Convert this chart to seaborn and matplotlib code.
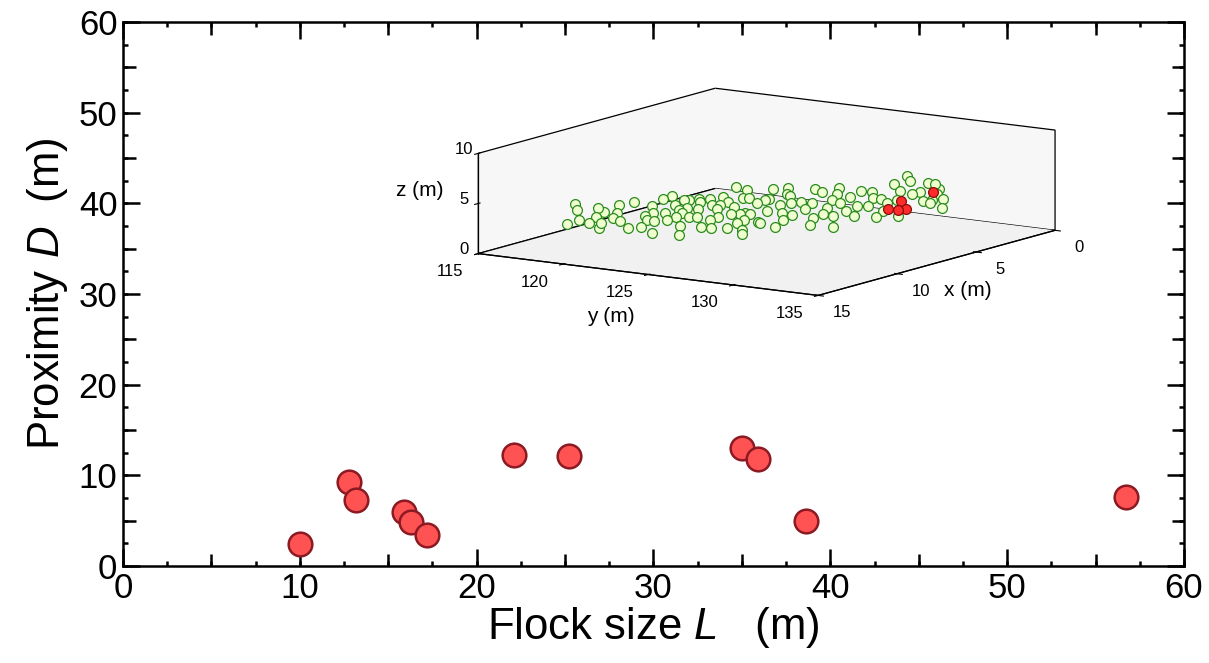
import matplotlib
matplotlib.use('Agg')
import matplotlib.pyplot as plt
from matplotlib.ticker import MultipleLocator
import seaborn as sns

# main panel: flock size vs proximity
flock_L = [10.0, 12.8, 13.2, 15.9, 16.3, 17.2, 22.1, 25.2, 35.0, 35.9, 38.6, 56.7]
proximity_D = [2.4, 9.3, 7.3, 6.0, 4.9, 3.4, 12.2, 12.1, 13.0, 11.8, 5.0, 7.6]

# inset: one flock snapshot (y, x, z in m)
flock_y = [119.47, 117.58, 117.81, 119.29, 120.21, 119.61, 119.07, 120.51, 120.63, 119.12,
           120.42, 119.79, 119.46, 121.14, 121.70, 118.96, 122.81, 122.03, 120.27, 121.25,
           121.35, 123.41, 122.51, 120.33, 121.73, 122.85, 120.26, 120.98, 122.85, 121.94,
           122.49, 120.63, 124.31, 124.81, 121.93, 120.83, 123.30, 123.70, 122.48, 121.13,
           121.64, 125.33, 124.68, 121.49, 125.92, 122.47, 123.37, 124.44, 122.81, 121.80,
           126.57, 122.79, 124.55, 123.68, 121.63, 126.24, 124.91, 127.36, 122.71, 126.06,
           124.95, 121.72, 122.99, 125.40, 128.05, 124.08, 126.86, 127.18, 123.95, 125.63,
           123.89, 122.67, 128.26, 125.25, 126.47, 127.68, 123.92, 123.06, 124.41, 125.46,
           127.23, 125.63, 126.95, 129.45, 126.31, 128.58, 124.39, 124.97, 128.38, 127.61,
           126.66, 129.00, 130.63, 125.97, 125.20, 127.46, 128.84, 126.95, 129.86, 128.62,
           126.48, 129.06, 127.00, 127.99, 130.99, 128.43, 130.36, 129.36, 126.81, 129.30,
           128.03, 131.66, 127.36, 127.78, 129.02, 129.10, 130.49, 128.75, 131.12, 129.26,
           130.01, 129.44, 132.29, 130.97, 130.72]
flock_x = [14.19, 11.67, 11.78, 13.21, 13.62, 12.50, 11.82, 13.27, 13.30, 11.45,
           12.33, 11.34, 10.92, 12.62, 12.70, 9.38, 13.10, 11.89, 9.68, 10.64,
           11.30, 13.03, 11.96, 9.07, 10.41, 11.49, 8.40, 8.96, 10.94, 9.79,
           10.17, 8.06, 12.22, 12.84, 9.24, 7.96, 10.56, 10.53, 9.11, 7.61,
           8.09, 12.02, 10.77, 7.31, 12.02, 8.24, 8.89, 10.01, 8.08, 6.80,
           11.71, 7.54, 9.27, 8.18, 5.81, 10.71, 9.09, 11.62, 6.56, 10.10,
           8.85, 5.19, 6.43, 8.97, 12.36, 7.13, 10.08, 10.26, 6.46, 8.17,
           6.15, 4.60, 10.47, 6.91, 8.12, 9.32, 5.06, 4.04, 5.38, 6.47,
           8.31, 6.02, 7.16, 9.54, 6.05, 8.39, 3.77, 3.98, 7.54, 6.50,
           5.15, 7.61, 9.33, 4.07, 3.16, 5.50, 6.62, 4.31, 7.20, 5.65,
           3.10, 5.44, 3.00, 3.96, 7.02, 3.96, 5.88, 4.59, 1.37, 3.88,
           2.35, 6.33, 1.17, 1.41, 2.60, 2.20, 3.52, 1.30, 3.74, 1.42,
           2.13, 1.34, 4.25, 2.74, 3.19]
flock_z = [3.5, 4.0, 3.5, 3.5, 3.5, 3.5, 4.0, 3.0, 3.5, 3.5,
           3.5, 3.5, 4.0, 3.5, 3.0, 3.5, 3.5, 3.5, 3.5, 3.5,
           3.5, 3.0, 3.5, 4.0, 3.5, 3.5, 4.0, 3.5, 3.5, 3.5,
           3.5, 3.5, 3.5, 3.0, 3.5, 3.5, 3.5, 3.5, 3.5, 3.5,
           3.5, 3.5, 3.5, 3.5, 3.5, 3.5, 3.5, 3.5, 3.5, 3.5,
           3.5, 3.5, 3.5, 3.5, 4.0, 3.5, 3.5, 3.5, 3.5, 3.5,
           3.5, 3.5, 3.5, 3.5, 3.5, 3.5, 3.5, 3.5, 3.5, 3.5,
           3.5, 3.5, 3.5, 3.5, 3.5, 3.5, 3.5, 3.5, 3.5, 3.5,
           3.5, 3.5, 3.5, 3.5, 3.5, 3.5, 3.5, 3.5, 3.5, 3.5,
           3.5, 3.5, 3.5, 3.5, 3.5, 3.5, 3.5, 3.5, 3.5, 3.5,
           3.5, 3.5, 3.5, 3.5, 3.5, 3.5, 3.5, 3.5, 3.5, 3.5,
           3.5, 3.5, 4.3, 4.0, 3.5, 3.5, 3.5, 4.0, 3.5, 4.0,
           3.5, 3.5, 3.5, 3.5, 3.5]
# leaders (red)
lead_y = [130.27, 130.82, 131.01, 129.57, 129.49]
lead_x = [5.49, 5.44, 5.14, 3.91, 1.80]
lead_z = [3.5, 3.5, 3.5, 3.5, 3.5]

sns.set_style('ticks')
plt.rcParams['font.family'] = ['Liberation Sans', 'DejaVu Sans']
plt.rcParams['mathtext.fontset'] = 'custom'
plt.rcParams['mathtext.rm'] = 'Liberation Sans'
plt.rcParams['mathtext.it'] = 'Liberation Sans:italic'
for key in ['text.color', 'axes.labelcolor', 'xtick.color', 'ytick.color', 'axes.edgecolor']:
    plt.rcParams[key] = 'black'

fig = plt.figure(figsize=(12.09, 6.63), dpi=100)
rect = [0.1017, 0.1463, 0.8776, 0.8205]
ax = fig.add_axes(rect)

sns.scatterplot(x=flock_L, y=proximity_D, ax=ax, s=290, color='#ff5252',
                edgecolor='#8c1a22', linewidth=1.8, zorder=1)

ax.set_xlim(0, 60)
ax.set_ylim(0, 60)
ax.xaxis.set_major_locator(MultipleLocator(10))
ax.yaxis.set_major_locator(MultipleLocator(10))
ax.xaxis.set_minor_locator(MultipleLocator(5))
ax.yaxis.set_minor_locator(MultipleLocator(5))
ax.tick_params(which='both', direction='in', top=True, right=True, width=1.8)
ax.tick_params(which='major', length=12.5, labelsize=25, pad=4)
ax.tick_params(which='minor', length=9)
for sp in ax.spines.values():
    sp.set_linewidth(1.8)
ax.set_xlabel('Flock size $L$   (m)', fontsize=31.5, labelpad=0)
ax.set_ylabel('Proximity $D$  (m)', fontsize=31.5, labelpad=6)

# tiny ticks every 2.5
ax_t = fig.add_axes(rect, frameon=False)
ax_t.set_xlim(0, 60)
ax_t.set_ylim(0, 60)
ax_t.set_xticks([])
ax_t.set_yticks([])
ax_t.xaxis.set_minor_locator(MultipleLocator(2.5))
ax_t.yaxis.set_minor_locator(MultipleLocator(2.5))
ax_t.tick_params(which='minor', direction='in', length=3.5, width=1.8,
                 top=True, right=True, bottom=True, left=True,
                 labelbottom=False, labelleft=False)

# inset 3d
cx, cy, side = 761 / 1209, 1 - 197.5 / 663, 420
w, h = side / 1209, side / 663
ax3 = fig.add_axes([cx - w / 2, cy - h / 2, w, h], projection='3d',
                   proj_type='ortho', computed_zorder=False)
ax3.patch.set_alpha(0)
ax3.set_box_aspect((426, 409, 102), zoom=1.385)
ax3.view_init(elev=10.6, azim=33.8)
ax3.scatter(flock_x, flock_y, flock_z, s=50, c='#f0ffd0', edgecolors='#2a8a1c',
            linewidths=0.9, depthshade=False)
ax3.scatter(lead_x, lead_y, lead_z, s=50, c='#ff2a2a', edgecolors='#8a0c0c',
            linewidths=0.9, depthshade=False)
ax3.set_xlim(0, 15)
ax3.set_ylim(115, 135)
ax3.set_zlim(0, 10)
ax3.set_xticks([0, 5, 10, 15])
ax3.set_yticks([115, 120, 125, 130, 135])
ax3.set_zticks([0, 5, 10])
ax3.grid(False)
ax3.xaxis.set_pane_color((0.968, 0.968, 0.972, 1.0))
ax3.yaxis.set_pane_color((0.968, 0.968, 0.972, 1.0))
ax3.zaxis.set_pane_color((0.945, 0.945, 0.95, 1.0))
for a in (ax3.xaxis, ax3.yaxis, ax3.zaxis):
    a.pane.set_edgecolor('black')
    a.pane.set_linewidth(0.9)
    a.line.set_linewidth(0.9)
ax3.tick_params(labelsize=12, pad=0)
ax3.tick_params(axis='x', pad=3)
ax3.tick_params(axis='y', pad=2)
ax3.tick_params(axis='z', pad=-4)
for lbl in ax3.get_yticklabels():
    lbl.set_horizontalalignment('right')
for lbl in ax3.get_zticklabels():
    lbl.set_verticalalignment('baseline')

# inset axis labels, kept horizontal as in the original
fig.text(0.3474, 0.7134, 'z (m)', fontsize=15, ha='center', va='center')
fig.text(0.5054, 0.5219, 'y (m)', fontsize=15, ha='center', va='center')
fig.text(0.8007, 0.5611, 'x (m)', fontsize=15, ha='center', va='center')

fig.savefig('out.png', dpi=100)
